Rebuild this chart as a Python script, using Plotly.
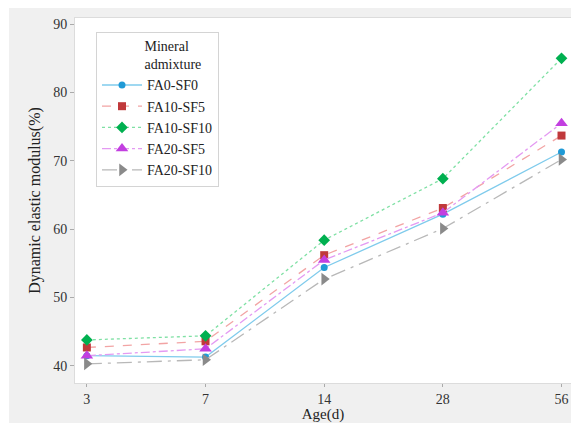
import plotly.graph_objects as go

ages = ["3", "7", "14", "28", "56"]
fa0_sf0 = [41.5, 41.3, 54.4, 62.2, 71.3]
fa10_sf5 = [42.7, 43.6, 56.2, 63.1, 73.7]
fa10_sf10 = [43.8, 44.4, 58.4, 67.4, 85.0]
fa20_sf5 = [41.5, 42.5, 55.5, 62.4, 75.5]
fa20_sf10 = [40.3, 40.9, 52.7, 60.1, 70.2]

series = [
    ("FA0-SF0", fa0_sf0, "#1f9ad6", "#7fcbec", "solid", "circle", 7),
    ("FA10-SF5", fa10_sf5, "#c0393b", "#f2a4a4", "dash", "square", 8),
    ("FA10-SF10", fa10_sf10, "#00b050", "#7fe0a4", "dot", "diamond", 9),
    ("FA20-SF5", fa20_sf5, "#c23fe0", "#e49af2", "dashdot", "triangle-up", 11),
    ("FA20-SF10", fa20_sf10, "#8a8a8a", "#b8b8b8", "longdashdot", "triangle-right", 11),
]

fig = go.Figure()
for name, vals, mc, lc, dash, sym, sz in series:
    fig.add_trace(go.Scatter(
        x=ages, y=vals, name=name, mode="lines+markers",
        line=dict(color=lc, width=1.3, dash=dash),
        marker=dict(color=mc, symbol=sym, size=sz, line=dict(width=0)),
    ))

W, H = 571, 423
L, R, T, B = 75, 0, 18, 40
pw, ph = W - L - R, H - T - B

def px_x(p):
    return (p - L) / pw

def px_y(p):
    return (H - B - p) / ph

shapes = [
    dict(type="rect", xref="paper", yref="paper", x0=px_x(-5), x1=px_x(9),
         y0=px_y(H + 5), y1=px_y(-5), fillcolor="white", line=dict(width=0), layer="below"),
    dict(type="rect", xref="paper", yref="paper", x0=px_x(-5), x1=px_x(W + 5),
         y0=px_y(8), y1=px_y(-5), fillcolor="white", line=dict(width=0), layer="below"),
]

font = "Liberation Serif"
fig.update_layout(
    width=W, height=H,
    margin=dict(l=L, r=R, t=T, b=B),
    paper_bgcolor="#f0f0f0", plot_bgcolor="white",
    shapes=shapes,
    font=dict(family=font, size=13, color="#333333"),
    showlegend=True,
    legend=dict(
        x=px_x(96), y=px_y(32), xanchor="left", yanchor="top",
        bgcolor="white", bordercolor="#d4d4d4", borderwidth=1,
        font=dict(family=font, size=14, color="#222222"),
        title=dict(text="\u00a0" * 13 + "Mineral<br>" + "\u00a0" * 13 + "admixture",
                   font=dict(family=font, size=14, color="#222222")),
        itemwidth=40, tracegroupgap=0,
    ),
    xaxis=dict(
        type="category", range=[-0.1, 4.08],
        showgrid=False, zeroline=False,
        showline=True, linecolor="#dcdcdc", linewidth=1, mirror=True,
        ticks="outside", ticklen=3, tickcolor="#aaaaaa",
        tickfont=dict(family=font, size=14, color="#333333"),
        title=dict(text="Age(d)", font=dict(family=font, size=15, color="#222222"), standoff=6),
    ),
    yaxis=dict(
        range=[37.5, 90.9], tickvals=[40, 50, 60, 70, 80, 90],
        showgrid=False, zeroline=False,
        showline=True, linecolor="#dcdcdc", linewidth=1, mirror=True,
        ticks="outside", ticklen=4, tickcolor="#aaaaaa",
        tickfont=dict(family=font, size=14, color="#333333"),
        title=dict(text="Dynamic elastic modulus(%)", font=dict(family=font, size=16, color="#222222"), standoff=8),
    ),
)

fig.write_html(
    "out.html",
    config={"displayModeBar": False},
    post_script="document.body.style.margin='0';document.documentElement.style.overflow='hidden';document.body.style.overflow='hidden';",
)
